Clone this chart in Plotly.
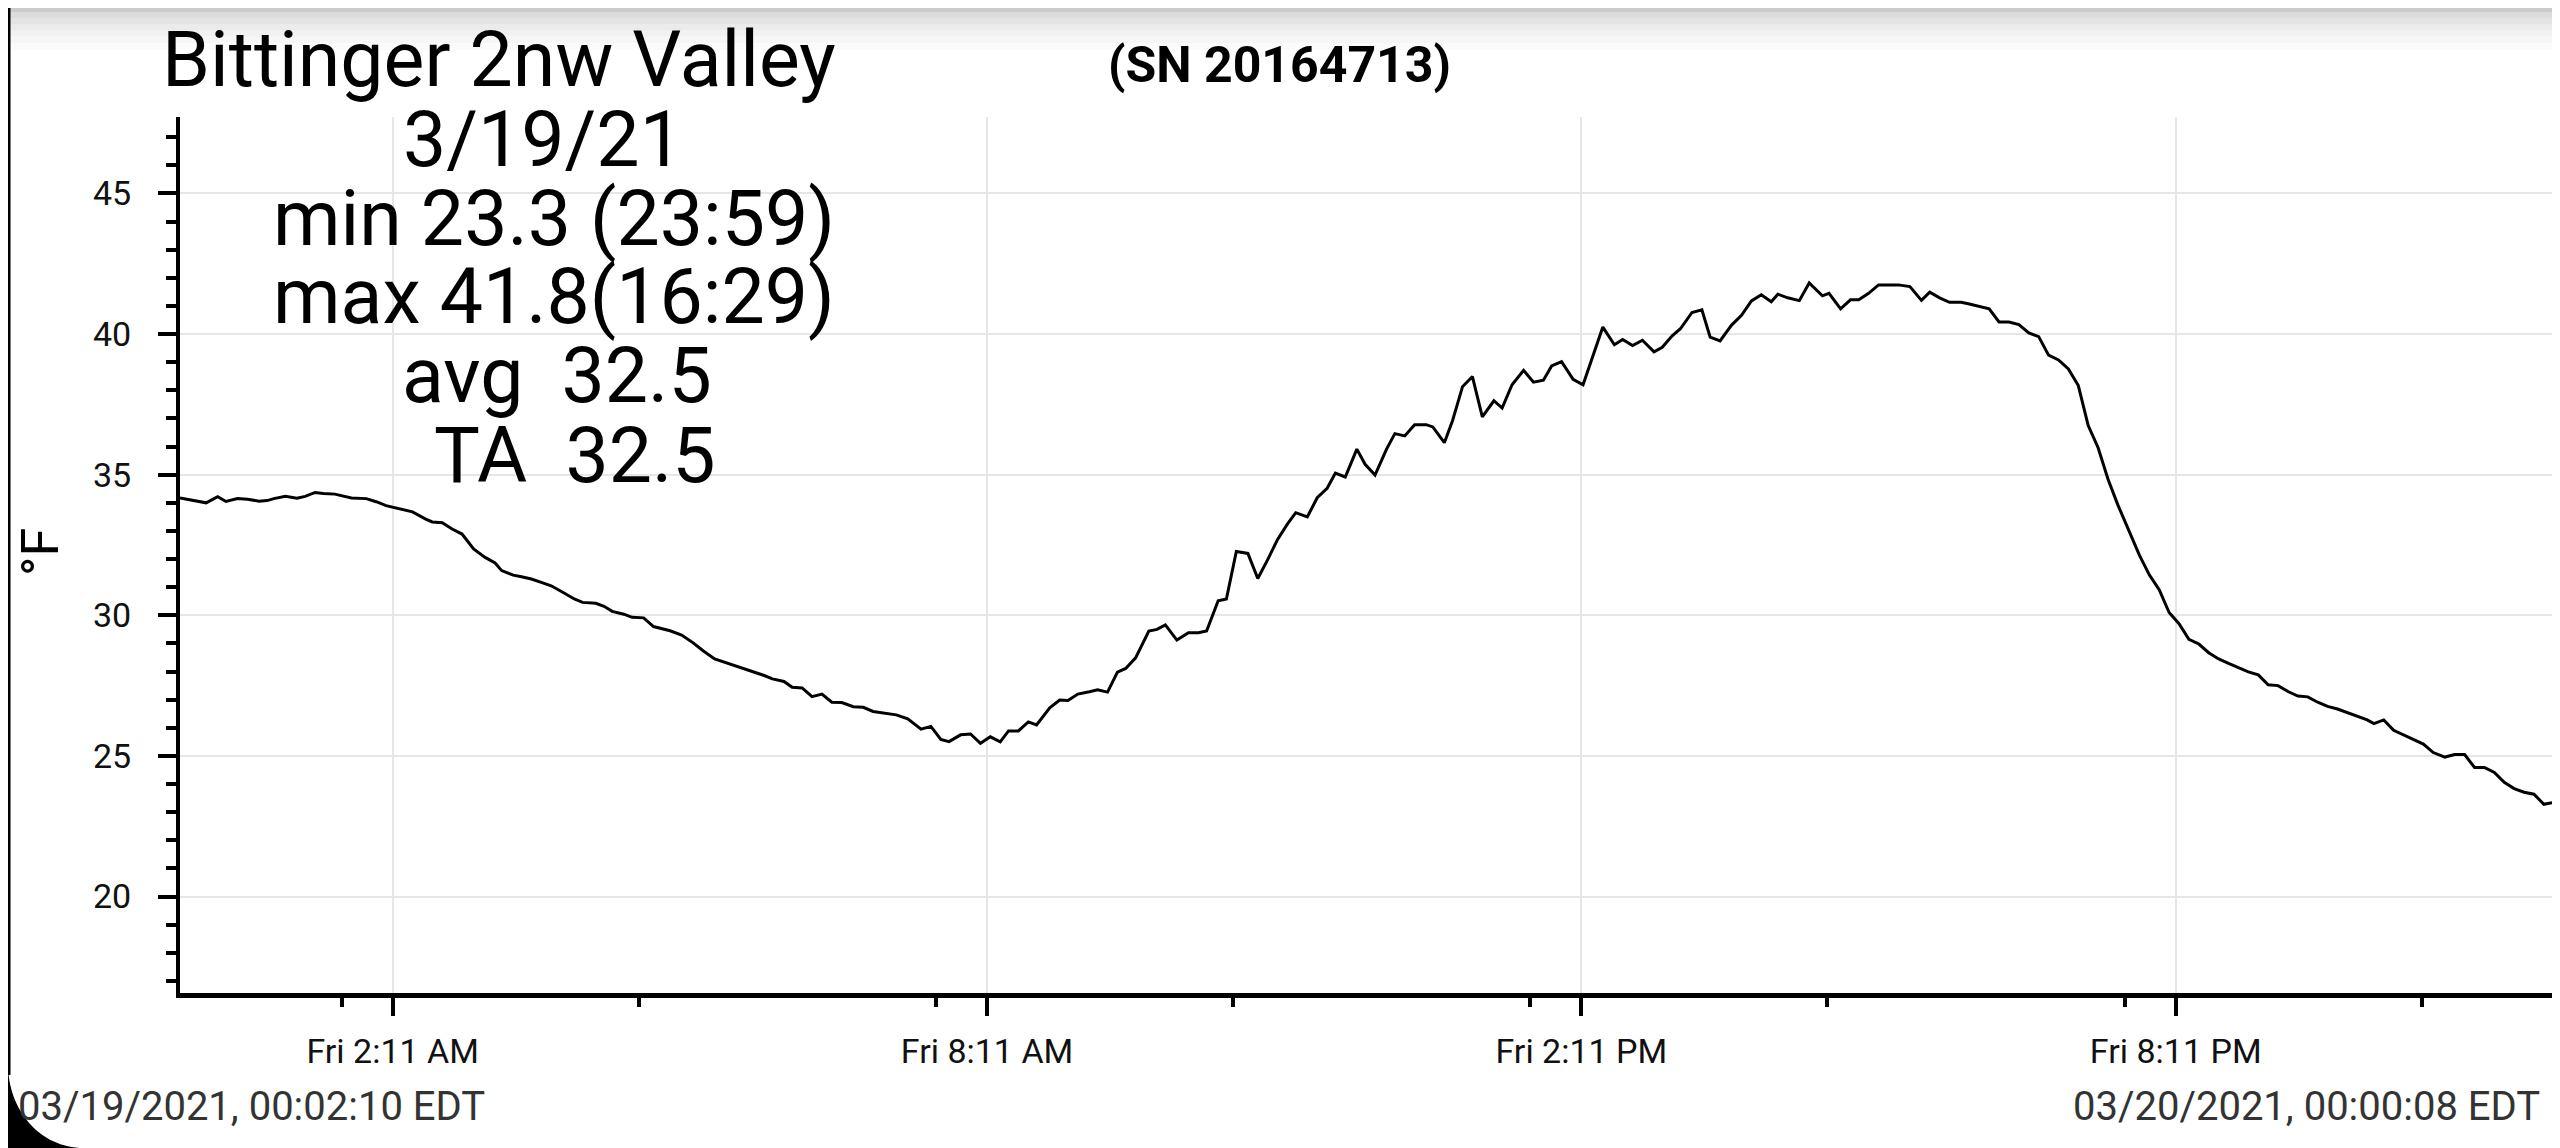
import plotly.graph_objects as go

# ---- data (deg F, local time on 3/19/21) ----
TIMES = [
    "00:02:10", "00:18", "00:25", "00:30", "00:37", "00:43", "00:50", "00:55", "00:59",
    "01:06", "01:13", "01:18", "01:24", "01:29", "01:36", "01:46", "01:55", "02:01",
    "02:07", "02:16", "02:23", "02:31", "02:35", "02:41", "02:47", "02:53", "03:00",
    "03:07", "03:13", "03:17", "03:24", "03:29", "03:35", "03:41", "03:47", "03:54",
    "04:01", "04:06", "04:14", "04:19", "04:24", "04:31", "04:36", "04:43", "04:49",
    "04:59", "05:06", "05:13", "05:19", "05:26", "05:34", "05:41", "05:49", "05:56",
    "06:01", "06:08", "06:13", "06:19", "06:25", "06:31", "06:37", "06:43", "06:50",
    "06:56", "07:02", "07:10", "07:16", "07:23", "07:31", "07:37", "07:43", "07:48",
    "07:55", "08:01", "08:07", "08:13", "08:19", "08:24", "08:30", "08:36", "08:41",
    "08:49", "08:55", "09:00", "09:06", "09:13", "09:18", "09:24", "09:30", "09:35",
    "09:41", "09:49", "09:54", "09:59", "10:06", "10:13", "10:19", "10:24", "10:31",
    "10:36", "10:42", "10:49", "10:55", "11:01", "11:07", "11:13", "11:18", "11:25",
    "11:31", "11:37", "11:42", "11:48", "11:55", "12:00", "12:06", "12:13", "12:18",
    "12:24", "12:30", "12:37", "12:41", "12:48", "12:53", "12:59", "13:05", "13:11",
    "13:18", "13:23", "13:29", "13:36", "13:42", "13:48", "13:53", "13:59", "14:06",
    "14:12", "14:18", "14:24", "14:31", "14:36", "14:42", "14:48", "14:55", "15:00",
    "15:06", "15:11", "15:18", "15:24", "15:29", "15:35", "15:42", "15:48", "15:54",
    "16:00", "16:06", "16:10", "16:16", "16:23", "16:29", "16:37", "16:41", "16:48",
    "16:54", "16:59", "17:05", "17:11", "17:17", "17:23", "17:30", "17:37", "17:42",
    "17:48", "17:54", "18:01", "18:06", "18:12", "18:18", "18:24", "18:30", "18:36",
    "18:42", "18:48", "18:54", "19:00", "19:06", "19:12", "19:18", "19:24", "19:30",
    "19:36", "19:43", "19:49", "19:55", "20:01", "20:07", "20:13", "20:19", "20:25",
    "20:31", "20:37", "20:43", "20:49", "20:55", "21:01", "21:07", "21:13", "21:19",
    "21:25", "21:31", "21:37", "21:43", "21:49", "21:55", "22:01", "22:07", "22:11",
    "22:17", "22:23", "22:29", "22:35", "22:41", "22:47", "22:54", "23:00", "23:06",
    "23:12", "23:18", "23:24", "23:30", "23:36", "23:42", "23:48", "23:54", "23:59",
]
TEMPS_F = [
    34.17, 34.00, 34.22, 34.05, 34.15, 34.13, 34.06, 34.08, 34.15,
    34.23, 34.16, 34.23, 34.37, 34.33, 34.31, 34.17, 34.15, 34.04,
    33.90, 33.79, 33.68, 33.42, 33.32, 33.29, 33.07, 32.89, 32.36,
    32.06, 31.86, 31.59, 31.43, 31.37, 31.29, 31.17, 31.05, 30.82,
    30.58, 30.46, 30.43, 30.32, 30.14, 30.04, 29.93, 29.91, 29.60,
    29.45, 29.30, 29.02, 28.74, 28.45, 28.29, 28.15, 28.01, 27.86,
    27.74, 27.65, 27.44, 27.42, 27.11, 27.20, 26.91, 26.90, 26.75,
    26.73, 26.58, 26.52, 26.46, 26.32, 25.95, 26.05, 25.59, 25.51,
    25.75, 25.78, 25.45, 25.68, 25.50, 25.89, 25.89, 26.21, 26.10,
    26.71, 26.99, 26.97, 27.20, 27.28, 27.35, 27.27, 27.98, 28.11,
    28.49, 29.44, 29.50, 29.66, 29.12, 29.38, 29.38, 29.44, 30.52,
    30.58, 32.27, 32.20, 31.31, 31.98, 32.70, 33.25, 33.65, 33.50,
    34.18, 34.52, 35.06, 34.92, 35.91, 35.37, 34.99, 35.91, 36.46,
    36.38, 36.78, 36.78, 36.70, 36.14, 36.93, 38.13, 38.49, 37.06,
    37.63, 37.37, 38.20, 38.71, 38.29, 38.36, 38.87, 39.02, 38.39,
    38.20, 39.21, 40.25, 39.62, 39.81, 39.59, 39.78, 39.37, 39.53,
    39.94, 40.19, 40.77, 40.86, 39.89, 39.76, 40.32, 40.67, 41.18,
    41.40, 41.15, 41.42, 41.29, 41.19, 41.82, 41.36, 41.45, 40.90,
    41.22, 41.22, 41.45, 41.75, 41.75, 41.75, 41.69, 41.20, 41.49,
    41.29, 41.13, 41.13, 41.07, 40.99, 40.90, 40.43, 40.43, 40.34,
    40.04, 39.91, 39.25, 39.08, 38.76, 38.17, 36.75, 35.96, 34.84,
    33.92, 32.93, 32.14, 31.44, 30.91, 30.10, 29.70, 29.15, 28.98,
    28.67, 28.45, 28.29, 28.15, 27.99, 27.88, 27.53, 27.50, 27.29,
    27.13, 27.10, 26.91, 26.76, 26.67, 26.54, 26.43, 26.28, 26.15,
    26.28, 25.91, 25.75, 25.59, 25.42, 25.12, 24.96, 25.05, 25.05,
    24.59, 24.59, 24.41, 24.06, 23.84, 23.71, 23.64, 23.28, 23.34,
]
DAY = "2021-03-19"
RANGE_START = "2021-03-19 00:02:10"
RANGE_END = "2021-03-20 00:00:08"

TICK_TIMES = ["02:11", "08:11", "14:11", "20:11"]
TICK_TEXT = ["Fri 2:11 AM", "Fri 8:11 AM", "Fri 2:11 PM", "Fri 8:11 PM"]
MINOR_TIMES = ["01:40", "04:40", "07:40", "10:40", "13:40", "16:40", "19:40", "22:40"]

TITLE = "Bittinger 2nw Valley"
SERIAL = "(SN 20164713)"
STAT_LINES = ["3/19/21", "min 23.3 (23:59)", "max 41.8(16:29)", "avg  32.5", "TA  32.5"]
START_LABEL = "03/19/2021, 00:02:10 EDT"
END_LABEL = "03/20/2021, 00:00:08 EDT"

# ---- page geometry, in screen pixels; the page body adds an 8px margin ----
OFF = 8
PAGE_W, PAGE_H = 2560, 1148
W, H = PAGE_W - OFF, PAGE_H - OFF
L, R, T, B = 180, 2554, 117, 993          # plot area on the screen
FONT = "Roboto"


def px(x):
    return (x - L) / (R - L)


def py(y):
    return (B - y) / (B - T)


fig = go.Figure()
fig.add_trace(go.Scatter(
    x=[f"{DAY} {t}" for t in TIMES], y=TEMPS_F, mode="lines",
    line=dict(color="#000000", width=3), hoverinfo="x+y", showlegend=False,
))

# stat block and headings
ann = [
    dict(text=TITLE, x=499, y=60),
    dict(text=STAT_LINES[0], x=543, y=140),
    dict(text=STAT_LINES[1], x=554, y=219),
    dict(text=STAT_LINES[2], x=554, y=297),
    dict(text=STAT_LINES[3], x=557, y=376),
    dict(text=STAT_LINES[4], x=575, y=456),
]
for a in ann:
    fig.add_annotation(text=a["text"].replace("  ", "&nbsp; "), x=px(a["x"]), y=py(a["y"]),
                       xref="paper", yref="paper", xanchor="center", yanchor="middle",
                       showarrow=False, font=dict(family=FONT, size=77, color="#000"))
fig.add_annotation(text=f"<b>{SERIAL}</b>", x=px(1279), y=py(65), xref="paper", yref="paper",
                   xanchor="center", yanchor="middle", showarrow=False,
                   font=dict(family=FONT, size=50, color="#000"))
fig.add_annotation(text="°F", textangle=-90, x=px(40), y=py(552), xref="paper", yref="paper",
                   xanchor="center", yanchor="middle", showarrow=False,
                   font=dict(family=FONT, size=52, color="#000"))
fig.add_annotation(text=START_LABEL, x=px(16), y=py(1106), xref="paper", yref="paper",
                   xanchor="left", yanchor="middle", showarrow=False,
                   font=dict(family=FONT, size=40, color="#333"))
fig.add_annotation(text=END_LABEL, x=px(2542), y=py(1106), xref="paper", yref="paper",
                   xanchor="right", yanchor="middle", showarrow=False,
                   font=dict(family=FONT, size=40, color="#333"))

# app chrome: gray header fade, left bezel, rounded corner, right strip
shapes = []
bands = [(0, 4, "#dedede"), (4, 12, "#cbcbcb"), (12, 18, "#dcdcdc"), (18, 24, "#e4e4e4"),
         (24, 30, "#ebebeb"), (30, 36, "#f1f1f1"), (36, 43, "#f6f6f6"), (43, 50, "#fbfbfb")]
for y0, y1, c in bands:
    shapes.append(dict(type="rect", xref="paper", yref="paper", x0=px(0), x1=px(PAGE_W),
                       y0=py(y1), y1=py(y0), fillcolor=c, line_width=0, layer="below"))
shapes.append(dict(type="rect", xref="paper", yref="paper", x0=px(2556), x1=px(PAGE_W),
                   y0=py(PAGE_H), y1=py(0), fillcolor="#ececec", line_width=0))
shapes.append(dict(type="rect", xref="paper", yref="paper", x0=px(OFF), x1=px(OFF + 2.5),
                   y0=py(1075), y1=py(0), fillcolor="#000", line_width=0))
corner = (f"M {px(OFF)},{py(1064)} C {px(OFF)},{py(1110)} {px(40)},{py(1148)} {px(84)},{py(1148)} "
          f"L {px(0)},{py(1148)} L {px(0)},{py(1064)} Z")
shapes.append(dict(type="path", xref="paper", yref="paper", path=corner,
                   fillcolor="#000", line_width=0))

fig.update_layout(
    width=W, height=H,
    margin=dict(l=L - OFF, r=W - (R - OFF), t=T - OFF, b=H - (B - OFF), pad=0),
    paper_bgcolor="#ffffff", plot_bgcolor="#ffffff",
    font=dict(family=FONT, color="#000"),
    shapes=shapes,
    showlegend=False,
)
fig.update_xaxes(
    type="date", range=[RANGE_START, RANGE_END],
    tickmode="array", tickvals=[f"{DAY} {t}" for t in TICK_TIMES], ticktext=TICK_TEXT,
    ticks="outside", ticklen=18, tickwidth=4, tickcolor="#000",
    tickfont=dict(family=FONT, size=34, color="#111"), ticklabelstandoff=6,
    showline=True, linecolor="#000", linewidth=4.5,
    showgrid=True, gridcolor="#e6e6e6", gridwidth=1.5, zeroline=False,
    minor=dict(tickmode="array", tickvals=[f"{DAY} {t}" for t in MINOR_TIMES],
               ticks="outside", ticklen=9, tickwidth=4, tickcolor="#000", showgrid=False),
)
fig.update_yaxes(
    range=[16.57, 47.72], tick0=0, dtick=5,
    ticks="outside", ticklen=18, tickwidth=4, tickcolor="#000",
    tickfont=dict(family=FONT, size=34, color="#111"), ticklabelstandoff=20,
    showline=True, linecolor="#000", linewidth=4,
    showgrid=True, gridcolor="#e6e6e6", gridwidth=2, zeroline=False,
    minor=dict(dtick=1, ticks="outside", ticklen=10, tickwidth=4, tickcolor="#000",
               showgrid=False),
)

fig.write_html("out.html")
